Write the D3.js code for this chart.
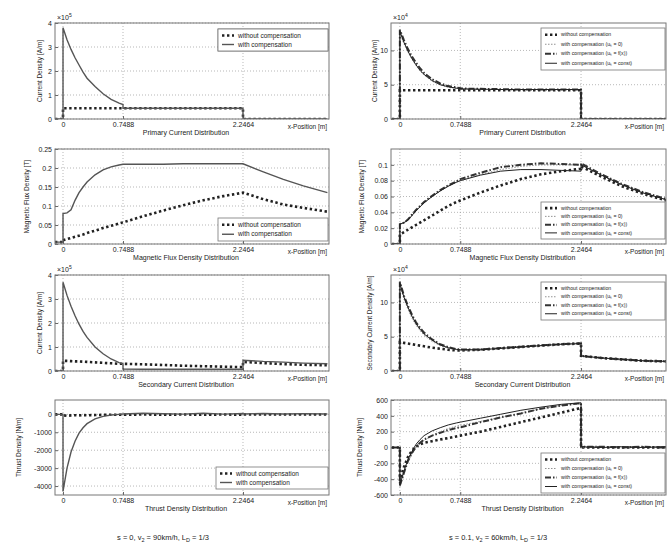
<!DOCTYPE html>
<html><head><meta charset="utf-8">
<script src="https://cdn.jsdelivr.net/npm/d3@7"></script>
<style>
body{margin:0;background:#fff;}
text{font-family:"Liberation Sans",Arial,sans-serif;fill:#222;}
</style></head>
<body><svg id="c" width="668" height="548"></svg>
<script>
// shared x grid (duplicate x values make the step jumps)
const xGrid = [-0.1,0,0,0.05,0.1,0.15,0.2,0.25,0.3,0.4,0.5,0.6,0.7,0.7488,0.7488,1.0,1.25,1.5,1.75,2.0,2.2464,2.2464,2.5,2.75,3.0,3.3];
const xTicks = [0,0.7488,2.2464];
const xTickLabels = ["0","0.7488","2.2464"];

// ---- left column (s = 0) ----
const L1_without = [0,0,0.45,0.45,0.45,0.45,0.45,0.45,0.45,0.45,0.45,0.45,0.45,0.45,0.45,0.45,0.45,0.45,0.45,0.45,0.45,0,0,0,0,0];
const L1_with    = [0,0,3.8,3.3,2.9,2.55,2.25,1.95,1.7,1.35,1.05,0.82,0.66,0.6,0.45,0.45,0.45,0.45,0.45,0.45,0.45,0,0,0,0,0];
const L2_without = [0.005,0.005,0.01,0.013,0.016,0.019,0.022,0.025,0.029,0.035,0.042,0.048,0.054,0.057,0.057,0.073,0.088,0.102,0.115,0.126,0.135,0.135,0.118,0.104,0.095,0.085];
const L2_with    = [0.005,0.005,0.08,0.082,0.09,0.115,0.135,0.15,0.163,0.182,0.195,0.203,0.208,0.21,0.21,0.21,0.21,0.211,0.211,0.211,0.211,0.211,0.19,0.17,0.153,0.135];
const L3_without = [0,0,0.42,0.42,0.41,0.4,0.4,0.39,0.38,0.36,0.34,0.32,0.3,0.3,0.3,0.28,0.25,0.22,0.2,0.18,0.16,0.38,0.33,0.29,0.26,0.24];
const L3_with    = [0,0,3.7,3.15,2.7,2.3,1.95,1.65,1.4,1.0,0.72,0.5,0.35,0.3,0.08,0.07,0.07,0.07,0.07,0.07,0.07,0.45,0.4,0.37,0.33,0.3];
const L4_without = [0,0,-50,-80,-60,-50,-60,-40,-50,-40,-30,-20,-20,-20,-20,-10,-20,-10,-20,-10,-20,-10,-10,-10,-10,-10];
const L4_with    = [0,0,-4300,-3000,-2100,-1500,-1050,-750,-520,-250,-110,-40,0,20,20,60,30,10,60,10,50,20,50,20,40,20];

// ---- right column (s = 0.1) ----
const R1_without = [0,0,4.2,4.2,4.2,4.2,4.2,4.2,4.2,4.2,4.2,4.2,4.2,4.2,4.2,4.2,4.2,4.2,4.2,4.2,4.2,0,0,0,0,0];
const R1_u0      = [0,0,12.5,11,9.8,8.7,7.8,7.0,6.4,5.5,5.0,4.6,4.45,4.4,4.35,4.3,4.3,4.3,4.3,4.3,4.3,0,0,0,0,0];
const R1_fx      = [0,0,13,11.5,10.2,9.1,8.2,7.4,6.7,5.8,5.2,4.8,4.6,4.5,4.45,4.4,4.35,4.3,4.3,4.3,4.3,0,0,0,0,0];
const R1_const   = [0,0,12.8,11.2,9.9,8.8,7.9,7.1,6.5,5.6,5.0,4.7,4.5,4.45,4.4,4.35,4.3,4.3,4.3,4.3,4.3,0,0,0,0,0];
const R2_without = [0,0,0.012,0.015,0.018,0.021,0.024,0.027,0.030,0.036,0.042,0.048,0.053,0.055,0.055,0.065,0.074,0.082,0.088,0.092,0.095,0.098,0.085,0.073,0.064,0.055];
const R2_u0      = [0,0,0.025,0.027,0.03,0.036,0.042,0.047,0.052,0.06,0.067,0.073,0.078,0.08,0.08,0.088,0.094,0.098,0.1,0.1,0.1,0.1,0.087,0.075,0.065,0.056];
const R2_fx      = [0,0,0.025,0.027,0.031,0.037,0.043,0.048,0.053,0.061,0.068,0.074,0.079,0.082,0.082,0.09,0.097,0.1,0.102,0.101,0.1,0.102,0.088,0.076,0.066,0.057];
const R2_const   = [0,0,0.025,0.027,0.03,0.036,0.042,0.047,0.052,0.06,0.067,0.073,0.078,0.08,0.08,0.087,0.092,0.094,0.094,0.093,0.092,0.1,0.087,0.075,0.065,0.056];
const R3_without = [0,0,4.2,4.1,4.0,3.9,3.8,3.7,3.6,3.4,3.25,3.1,3.0,3.0,3.0,3.1,3.3,3.5,3.7,3.9,4.0,2.2,1.9,1.7,1.5,1.4];
const R3_u0      = [0,0,12.5,10.5,9.0,7.7,6.7,5.9,5.2,4.3,3.7,3.3,3.1,3.05,3.05,3.1,3.3,3.5,3.7,3.9,4.0,2.2,1.9,1.7,1.5,1.4];
const R3_fx      = [0,0,13,11,9.5,8.2,7.1,6.3,5.6,4.6,3.9,3.5,3.2,3.15,3.15,3.15,3.35,3.55,3.75,3.9,4.05,2.2,1.9,1.7,1.5,1.4];
const R3_const   = [0,0,12.8,10.8,9.3,8.0,6.9,6.1,5.4,4.5,3.8,3.4,3.15,3.1,3.1,3.1,3.3,3.5,3.7,3.9,4.0,2.2,1.9,1.7,1.5,1.4];
const R4_without = [0,0,-420,-250,-120,-40,10,40,60,80,100,120,140,150,150,200,260,320,380,440,500,0,0,0,0,0];
const R4_u0      = [0,0,-500,-330,-180,-80,0,50,90,150,200,240,270,280,280,330,380,430,490,530,550,0,0,10,0,10];
const R4_fx      = [0,0,-480,-320,-170,-70,10,60,100,150,185,220,245,255,255,320,380,430,490,530,560,10,10,0,10,0];
const R4_const   = [0,0,-470,-300,-150,-50,40,100,150,210,250,285,310,320,320,370,420,470,510,545,565,10,0,10,0,10];

const titles = ["Primary Current Distribution","Magnetic Flux Density Distribution","Secondary Current Distribution","Thrust Density Distribution"];
const leftYLabels = ["Current Density [A/m]","Magnetic Flux Density [T]","Current Density [A/m]","Thrust Density [N/m]"];
const rightYLabels = ["Current Density [A/m]","Magnetic Flux Density [T]","Secondary Current Density [A/m]","Thrust Density [N/m]"];
const leftYDomains = [[0,4],[0,0.25],[0,4],[-4500,800]];
const rightYDomains = [[0,14],[0,0.12],[0,14],[-600,600]];
const leftYTicks = [[0,1,2,3,4],[0,0.05,0.1,0.15,0.2,0.25],[0,1,2,3,4],[-4000,-3000,-2000,-1000,0]];
const rightYTicks = [[0,5,10],[0,0.02,0.04,0.06,0.08,0.1],[0,5,10],[-600,-400,-200,0,200,400,600]];
const leftExp = ["5",null,"5",null];
const rightExp = ["4",null,"4",null];
const leftLegendNames = ["without compensation","with compensation"];
const rightLegendNames = ["without compensation","with compensation (u\u2096 = 0)","with compensation (u\u2096 = f(x))","with compensation (u\u2096 = const)"];
const captionParts = [
  [["s = 0, v",0],["2",1],[" = 90km/h, L",0],["D",1],[" = 1/3",0]],
  [["s = 0.1, v",0],["2",1],[" = 60km/h, L",0],["D",1],[" = 1/3",0]]
];

const leftSeries = [[L1_without,L1_with],[L2_without,L2_with],[L3_without,L3_with],[L4_without,L4_with]];
const rightSeries = [[R1_without,R1_u0,R1_fx,R1_const],[R2_without,R2_u0,R2_fx,R2_const],[R3_without,R3_u0,R3_fx,R3_const],[R4_without,R4_u0,R4_fx,R4_const]];

const rows = [[23,119],[149,244],[275,371],[400,495]];
const leftYLabelX = [40,27,40,19];
const rightYLabelX = [375,362,370,360];
const svg = d3.select("#c");

const leftStyles = [
  {w:2.6,dash:"2.4,2.6",col:"#222"},
  {w:1.4,dash:null,col:"#555"}
];
const rightStyles = [
  {w:2.6,dash:"2.4,2.6",col:"#222"},
  {w:0.8,dash:"1.5,1.5",col:"#777"},
  {w:2.0,dash:"6,2,1.5,2",col:"#333"},
  {w:1.0,dash:null,col:"#222"}
];

function panel(x0,x1,xDom,row,yDom,yTicks,yLabel,ylx,title,series,styles,expo,legendNames,legendPos,idx,side){
  const [y0,y1] = row;
  const x = d3.scaleLinear().domain(xDom).range([x0,x1]);
  const y = d3.scaleLinear().domain(yDom).range([y1,y0]);
  const g = svg.append("g");
  const cid = "clip"+side+idx;
  g.append("clipPath").attr("id",cid).append("rect").attr("x",x0).attr("y",y0).attr("width",x1-x0).attr("height",y1-y0);
  // grid
  g.selectAll(".gy").data(yTicks).enter().append("line")
    .attr("x1",x0).attr("x2",x1).attr("y1",d=>y(d)).attr("y2",d=>y(d))
    .attr("stroke","#999").attr("stroke-width",0.7).attr("stroke-dasharray","1,2");
  g.selectAll(".gx").data(xTicks).enter().append("line")
    .attr("x1",d=>x(d)).attr("x2",d=>x(d)).attr("y1",y0).attr("y2",y1)
    .attr("stroke","#999").attr("stroke-width",0.7).attr("stroke-dasharray","1,2");
  // axes
  const ax = d3.axisBottom(x).tickValues(xTicks).tickFormat((d,i)=>xTickLabels[i]).tickSize(3);
  const axg = g.append("g").attr("transform",`translate(0,${y1})`).call(ax);
  axg.select(".domain").remove();
  axg.selectAll("line").attr("stroke","#666").attr("y2",-3);
  axg.selectAll("text").attr("font-size",7).attr("dy","0.9em").attr("y",2);
  const fmt = v => (Math.abs(v)<1e-9?"0":String(+v.toFixed(3)));
  const ay = d3.axisLeft(y).tickValues(yTicks).tickFormat(fmt).tickSize(3);
  const ayg = g.append("g").attr("transform",`translate(${x0},0)`).call(ay);
  ayg.select(".domain").remove();
  ayg.selectAll("line").attr("stroke","#666").attr("x2",3);
  ayg.selectAll("text").attr("font-size",7).attr("x",-3);
  // lines
  const line = d3.line().x((d,i)=>x(xGrid[i])).y(d=>y(d));
  series.forEach((s,k)=>{
    const st = styles[k];
    g.append("path").attr("d",line(s)).attr("fill","none")
      .attr("stroke",st.col).attr("stroke-width",st.w)
      .attr("stroke-dasharray",st.dash).attr("clip-path",`url(#${cid})`);
  });
  // frame
  g.append("rect").attr("x",x0).attr("y",y0).attr("width",x1-x0).attr("height",y1-y0)
    .attr("fill","none").attr("stroke","#777").attr("stroke-width",1);
  // labels
  g.append("text").attr("transform",`translate(${ylx},${(y0+y1)/2}) rotate(-90)`)
    .attr("text-anchor","middle").attr("dy","0.35em").attr("font-size",6.5).text(yLabel);
  g.append("text").attr("x",x1-2).attr("y",y1+10).attr("text-anchor","end").attr("font-size",6.5).text("x-Position [m]");
  g.append("text").attr("x",(x0+x1)/2-6).attr("y",y1+16).attr("text-anchor","middle").attr("font-size",7).text(title);
  if(expo){
    const t = g.append("text").attr("x",x0+2).attr("y",y0-3).attr("font-size",7);
    t.append("tspan").text("\u00d710");
    t.append("tspan").attr("dy",-3).attr("font-size",5).text(expo);
  }
  // legend
  const [lx,ly,lw,lh] = legendPos;
  const lg = g.append("g");
  lg.append("rect").attr("x",lx).attr("y",ly).attr("width",lw).attr("height",lh)
    .attr("fill","#fff").attr("stroke","#777").attr("stroke-width",0.8);
  const rowH = (lh-4)/legendNames.length;
  legendNames.forEach((nm,k)=>{
    const yy = ly+2+rowH*(k+0.5);
    const st = styles[k];
    lg.append("line").attr("x1",lx+4).attr("x2",lx+16).attr("y1",yy).attr("y2",yy)
      .attr("stroke",st.col).attr("stroke-width",st.w).attr("stroke-dasharray",st.dash);
    lg.append("text").attr("x",lx+20).attr("y",yy).attr("dy","0.33em").attr("font-size",legendNames.length>2?5.2:6.5).text(nm);
  });
}

const leftLegendPos = [[218,29,110,22],[218,218,110,23],[218,29,110,22],[216,467,112,22]];
const rightLegendPos = [[541,28,124,42],[541,202,124,37],[541,282,124,38],[541,453,124,40]];

for(let i=0;i<4;i++){
  panel(55,329,[-0.1,3.32],rows[i],leftYDomains[i],leftYTicks[i],leftYLabels[i],leftYLabelX[i],titles[i],leftSeries[i],leftStyles,leftExp[i],leftLegendNames,leftLegendPos[i],i,"L");
  panel(391,666,[-0.11,3.3],rows[i],rightYDomains[i],rightYTicks[i],rightYLabels[i],rightYLabelX[i],titles[i],rightSeries[i],rightStyles,rightExp[i],rightLegendNames,rightLegendPos[i],i,"R");
}
[[163,captionParts[0]],[498,captionParts[1]]].forEach(([cx,parts])=>{
  const t = svg.append("text").attr("x",cx).attr("y",540).attr("text-anchor","middle").attr("font-size",7.5);
  let sub = false;
  parts.forEach(([s,isSub])=>{
    const ts = t.append("tspan").text(s);
    if(isSub && !sub){ts.attr("dy",2).attr("font-size",5.5);sub=true;}
    else if(!isSub && sub){ts.attr("dy",-2);sub=false;}
  });
});
</script></body></html>
